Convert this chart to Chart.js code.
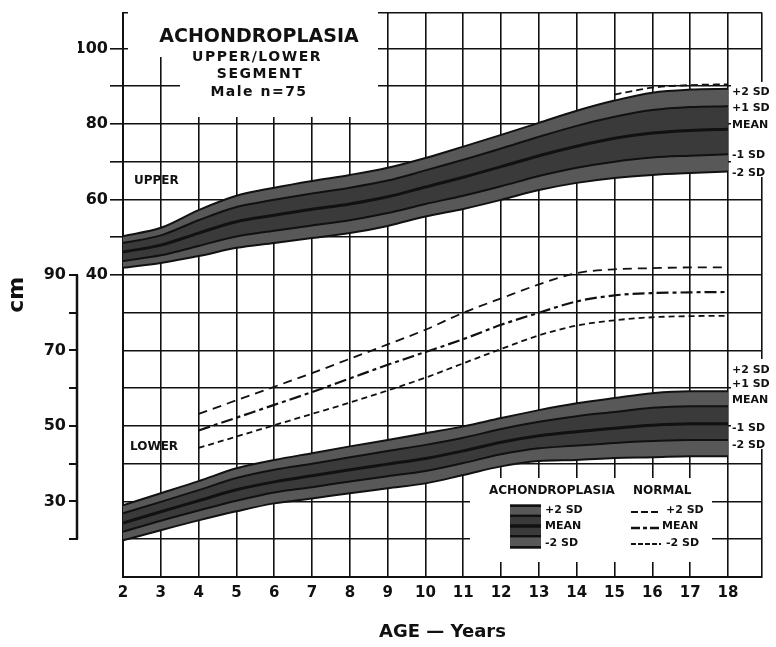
<!DOCTYPE html>
<html>
<head>
<meta charset="utf-8">
<script src="https://cdn.jsdelivr.net/npm/chart.js@4.4.1/dist/chart.umd.min.js"></script>
<style>
  html, body { margin: 0; padding: 0; background: #fff; }
</style>
</head>
<body>
<canvas id="myChart" width="776" height="647"></canvas>
<script>
// ages in years
const ages = [2, 3, 4, 5, 6, 7, 8, 9, 10, 11, 12, 13, 14, 15, 16, 17, 18];

// achondroplasia upper segment (cm)
const upper_m2 = [41.9, 43.2, 45.0, 47.2, 48.5, 49.8, 51.1, 53.0, 55.5, 57.5, 59.9, 62.5, 64.4, 65.7, 66.5, 67.0, 67.4];
const upper_m1 = [43.7, 45.2, 47.7, 50.2, 51.7, 53.1, 54.5, 56.4, 58.8, 61.0, 63.5, 66.2, 68.4, 70.0, 71.1, 71.6, 72.0];
const upper_mean = [46.1, 47.9, 51.1, 54.1, 55.8, 57.4, 58.8, 60.7, 63.3, 65.9, 68.7, 71.6, 74.1, 76.2, 77.6, 78.3, 78.6];
const upper_p1 = [48.5, 50.5, 54.5, 58.0, 59.9, 61.6, 63.1, 65.0, 67.7, 70.5, 73.5, 76.6, 79.5, 81.9, 83.7, 84.5, 84.7];
const upper_p2 = [50.3, 52.5, 57.2, 61.0, 63.1, 64.9, 66.5, 68.4, 71.0, 74.0, 77.1, 80.3, 83.5, 86.2, 88.3, 89.1, 89.3];

// achondroplasia lower segment (cm)
const lower_m2 = [19.7, 22.4, 25.0, 27.4, 29.5, 30.8, 32.2, 33.5, 34.8, 37.0, 39.3, 40.7, 41.0, 41.5, 41.7, 42.0, 42.0];
const lower_m1 = [22.0, 24.9, 27.6, 30.2, 32.4, 33.8, 35.3, 36.7, 38.1, 40.2, 42.5, 44.1, 44.8, 45.5, 46.0, 46.3, 46.3];
const lower_mean = [24.3, 27.3, 30.2, 33.1, 35.2, 36.8, 38.4, 39.9, 41.4, 43.4, 45.7, 47.4, 48.5, 49.4, 50.2, 50.6, 50.6];
const lower_p1 = [26.9, 29.9, 33.0, 36.2, 38.4, 40.0, 41.7, 43.4, 45.0, 46.9, 49.2, 51.1, 52.6, 53.7, 54.8, 55.2, 55.2];
const lower_p2 = [29.0, 32.2, 35.4, 38.8, 41.0, 42.8, 44.6, 46.3, 48.1, 49.9, 52.1, 54.2, 56.0, 57.4, 58.7, 59.2, 59.2];

// normal lower segment (cm)
const normal_ages = [4, 5, 6, 7, 8, 9, 10, 11, 12, 13, 14, 15, 16, 17, 18];
const normal_p2 = [53.2, 56.8, 60.4, 64.0, 67.8, 71.6, 75.5, 80.0, 83.8, 87.5, 90.5, 91.5, 91.8, 92.0, 92.0];
const normal_mean = [48.8, 52.2, 55.6, 59.0, 62.6, 66.2, 69.6, 73.0, 76.8, 80.0, 83.0, 84.6, 85.2, 85.4, 85.5];
const normal_m2 = [44.2, 47.2, 50.2, 53.2, 56.2, 59.4, 62.8, 66.6, 70.4, 74.0, 76.6, 78.0, 78.8, 79.1, 79.2];

// normal upper segment, end of the curve only
const normal_upper_ages = [15, 16, 17, 18];
const normal_upper = [87.8, 89.6, 90.3, 90.5];

// tick labels
const age_ticks = [2, 3, 4, 5, 6, 7, 8, 9, 10, 11, 12, 13, 14, 15, 16, 17, 18];
const upper_labels = [40, 60, 80, 100];
const lower_labels = [30, 50, 70, 90];
const sd_labels = ["+2 SD", "+1 SD", "MEAN", "-1 SD", "-2 SD"];
const upper_label_at = [88.3, 84.3, 79.8, 71.8, 67.1];
const lower_label_at = [64.8, 61.1, 56.8, 49.4, 44.9];

const FONT = "DejaVu Sans";
const INK = "#111";
const outer_fill = "rgb(88, 88, 88)";
const inner_fill = "rgb(58, 58, 58)";

const pts = (xs, ys) => xs.map((a, i) => ({ x: a, y: ys[i] }));

const band_line = (data, axis, fill, color, width) => ({
  data: data,
  yAxisID: axis,
  fill: fill,
  backgroundColor: color,
  borderColor: INK,
  borderWidth: width,
  pointRadius: 0,
  cubicInterpolationMode: "monotone",
});

const dash_line = (data, dash, width) => ({
  data: data,
  yAxisID: "y2",
  fill: false,
  borderColor: INK,
  borderWidth: width,
  borderDash: dash,
  pointRadius: 0,
  cubicInterpolationMode: "monotone",
});

const overlay = {
  id: "overlay",
  afterDraw(chart) {
    const { ctx, scales } = chart;
    const x = scales.x, y = scales.y, y2 = scales.y2;
    ctx.save();

    // lower scale bar
    ctx.strokeStyle = INK;
    ctx.lineWidth = 2.5;
    ctx.beginPath();
    ctx.moveTo(y2.right - 1, y2.getPixelForValue(90));
    ctx.lineTo(y2.right - 1, y2.getPixelForValue(20));
    ctx.stroke();

    // white patches behind the texts
    ctx.fillStyle = "#fff";
    ctx.fillRect(128, 11, 250, 46);
    ctx.fillRect(180, 57, 198, 60);
    ctx.fillRect(470, 478, 242, 84);
    ctx.fillRect(731, 82, 45, 95);
    ctx.fillRect(731, 359, 45, 90);

    ctx.fillStyle = INK;
    ctx.textAlign = "center";
    ctx.textBaseline = "middle";
    ctx.font = `bold 19px "${FONT}"`;
    ctx.fillText("ACHONDROPLASIA", 259, 37);
    ctx.letterSpacing = "1.5px";
    ctx.font = `bold 14px "${FONT}"`;
    ctx.fillText("UPPER/LOWER", 257, 57);
    ctx.fillText("SEGMENT", 260, 74);
    ctx.fillText("Male n=75", 259, 92);
    ctx.letterSpacing = "0px";

    ctx.textAlign = "left";
    ctx.font = `bold 12px "${FONT}"`;
    ctx.fillText("UPPER", 134, 181);
    ctx.fillText("LOWER", 130, 447);

    // SD labels at the right end
    ctx.font = `bold 11px "${FONT}"`;
    const lx = x.getPixelForValue(18) + 4;
    sd_labels.forEach((t, i) => {
      ctx.fillText(t, lx, y.getPixelForValue(upper_label_at[i]));
      ctx.fillText(t, lx, y2.getPixelForValue(lower_label_at[i]));
    });

    // key
    ctx.font = `bold 12px "${FONT}"`;
    ctx.fillText("ACHONDROPLASIA", 489, 491);
    ctx.fillText("NORMAL", 633, 491);
    ctx.fillStyle = outer_fill;
    ctx.fillRect(510, 504, 31, 45);
    ctx.fillStyle = inner_fill;
    ctx.fillRect(510, 514, 31, 24);
    ctx.strokeStyle = INK;
    [[506, 2], [516, 2], [526, 3.5], [536, 2], [547, 2]].forEach(([yy, w]) => {
      ctx.lineWidth = w;
      ctx.beginPath();
      ctx.moveTo(510, yy);
      ctx.lineTo(541, yy);
      ctx.stroke();
    });
    ctx.fillStyle = INK;
    ctx.font = `bold 11px "${FONT}"`;
    ctx.fillText("+2 SD", 545, 510);
    ctx.fillText("MEAN", 545, 526);
    ctx.fillText("-2 SD", 545, 543);
    [[512, [7, 3], 1.8], [528, [9, 3, 4, 3], 2.5], [544, [5, 2], 1.8]].forEach(([yy, dash, w]) => {
      ctx.setLineDash(dash);
      ctx.lineWidth = w;
      ctx.beginPath();
      ctx.moveTo(631, yy);
      ctx.lineTo(661, yy);
      ctx.stroke();
    });
    ctx.setLineDash([]);
    ctx.fillText("+2 SD", 666, 510);
    ctx.fillText("MEAN", 662, 526);
    ctx.fillText("-2 SD", 666, 543);
    ctx.restore();
  },
};

const ctx = document.getElementById("myChart").getContext("2d");
const myChart = new Chart(ctx, {
  type: "line",
  data: {
    datasets: [
      band_line(pts(ages, upper_m2), "y", false, outer_fill, 2),
      band_line(pts(ages, upper_m1), "y", "-1", outer_fill, 2),
      band_line(pts(ages, upper_mean), "y", "-1", inner_fill, 3),
      band_line(pts(ages, upper_p1), "y", "-1", inner_fill, 2),
      band_line(pts(ages, upper_p2), "y", "-1", outer_fill, 2),
      band_line(pts(ages, lower_m2), "y2", false, outer_fill, 2),
      band_line(pts(ages, lower_m1), "y2", "-1", outer_fill, 2),
      band_line(pts(ages, lower_mean), "y2", "-1", inner_fill, 3),
      band_line(pts(ages, lower_p1), "y2", "-1", inner_fill, 2),
      band_line(pts(ages, lower_p2), "y2", "-1", outer_fill, 2),
      dash_line(pts(normal_ages, normal_p2), [9, 6], 1.8),
      dash_line(pts(normal_ages, normal_mean), [12, 4, 4, 4], 2.2),
      dash_line(pts(normal_ages, normal_m2), [6, 4], 1.8),
      Object.assign(dash_line(pts(normal_upper_ages, normal_upper), [7, 4], 1.8), { yAxisID: "y" }),
    ],
  },
  options: {
    responsive: false,
    animation: false,
    layout: { padding: { top: 10, right: 14, left: 0, bottom: 0 } },
    plugins: {
      legend: { display: false },
      tooltip: { enabled: false },
    },
    scales: {
      x: {
        type: "linear",
        min: 2,
        max: 18.9,
        afterBuildTicks: (s) => {
          s.ticks = age_ticks.concat([18.9]).map((v) => ({ value: v }));
        },
        afterFit: (s) => {
          s.height = 70;
        },
        ticks: {
          autoSkip: false,
          maxRotation: 0,
          padding: 7,
          color: INK,
          font: { family: FONT, weight: "bold", size: 15 },
          callback: (v) => (v > 18.5 ? "" : v),
        },
        grid: { color: INK, lineWidth: 1.6, drawTicks: false },
        border: { color: INK, width: 2 },
        title: {
          display: true,
          text: "AGE — Years",
          color: INK,
          font: { family: FONT, weight: "bold", size: 18 },
          padding: { top: 0, bottom: 4 },
        },
      },
      y: {
        type: "linear",
        position: "left",
        weight: 0,
        min: -40,
        max: 109.5,
        afterBuildTicks: (s) => {
          const t = [];
          for (let v = -30; v <= 100; v += 10) t.push({ value: v });
          t.push({ value: 109.5 });
          s.ticks = t;
        },
        afterFit: (s) => {
          s.width = 45;
        },
        ticks: {
          padding: 2,
          color: INK,
          font: { family: FONT, weight: "bold", size: 16 },
          callback: (v) => (upper_labels.includes(v) ? v : ""),
        },
        grid: {
          color: INK,
          lineWidth: 1.6,
          tickLength: 13,
          tickColor: (c) => (c.tick && c.tick.value >= 40 && c.tick.value <= 100 ? INK : "rgba(0,0,0,0)"),
        },
        border: { color: INK, width: 2 },
      },
      y2: {
        type: "linear",
        position: "left",
        weight: 1,
        min: 10,
        max: 159.5,
        afterBuildTicks: (s) => {
          const t = [];
          for (let v = 20; v <= 90; v += 10) t.push({ value: v });
          s.ticks = t;
        },
        afterFit: (s) => {
          s.width = 78;
        },
        ticks: {
          padding: 3,
          color: INK,
          font: { family: FONT, weight: "bold", size: 16 },
          callback: (v) => (lower_labels.includes(v) ? v : ""),
        },
        grid: { drawOnChartArea: false, color: INK, lineWidth: 2, tickLength: 9 },
        border: { display: false },
        title: {
          display: true,
          text: "cm",
          color: INK,
          font: { family: FONT, weight: "bold", size: 22 },
          padding: { top: 4, bottom: 0 },
        },
      },
    },
  },
  plugins: [overlay],
});
</script>
</body>
</html>
